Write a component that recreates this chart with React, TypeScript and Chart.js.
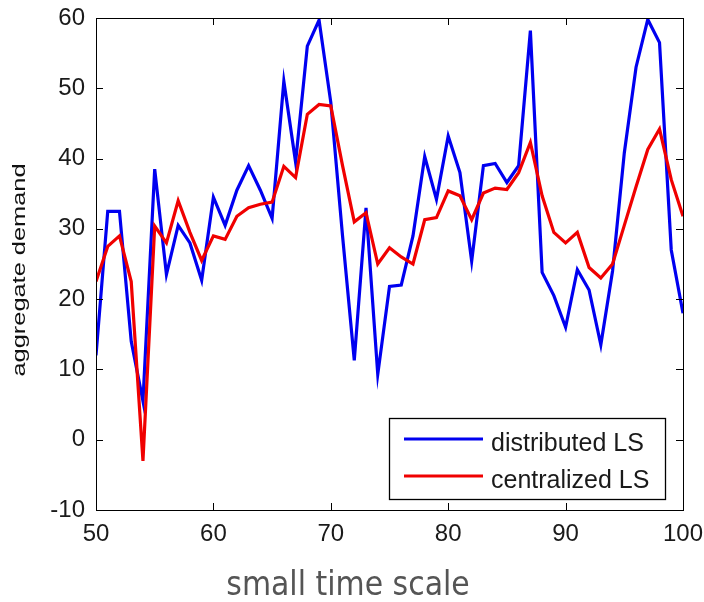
import React, { useEffect, useRef } from "react";
import { Chart, registerables } from "chart.js";

Chart.register(...registerables);

const timeSteps = [
  50, 51, 52, 53, 54, 55, 56, 57, 58, 59, 60, 61, 62, 63, 64, 65, 66, 67, 68, 69, 70,
  71, 72, 73, 74, 75, 76, 77, 78, 79, 80, 81, 82, 83, 84, 85, 86, 87, 88, 89, 90,
  91, 92, 93, 94, 95, 96, 97, 98, 99, 100,
];

const distributedLS = [
  12, 32.5, 32.5, 14, 5.5, 38.5, 23.5, 30.5, 28, 22.7, 34.5, 30.5, 35.5, 39, 35.5, 31.5,
  51, 39.5, 56, 59.7, 48, 29, 11.3, 33, 9.3, 21.8, 22, 29, 40.3, 34.2, 43.2, 38, 25.4,
  39, 39.3, 36.6, 39, 58.2, 23.8, 20.5, 16, 24.2, 21.3, 13.5, 24, 40.8, 53, 59.8, 56.5,
  27, 18,
];

const centralizedLS = [
  22.5, 27.5, 29, 22.5, -3, 30.4, 28, 34, 29.5, 25.5, 29, 28.5, 31.8, 33, 33.5, 33.8,
  38.9, 37.3, 46.3, 47.7, 47.5, 39, 31, 32.3, 25, 27.3, 26, 25, 31.3, 31.6, 35.4, 34.7,
  31.3, 35.1, 35.8, 35.6, 38, 42.3, 34.7, 29.5, 28, 29.5, 24.5, 23, 25, 30.5, 36, 41.3,
  44.2, 37, 31.8,
];

const seriesLabels = ["distributed LS", "centralized LS"];
const seriesColors = ["#0000f0", "#f00000"];
const xTitle = "small time scale";
const yTitle = "aggregate demand";

const framePlugin = {
  id: "matlabFrame",
  afterDraw(chart: any) {
    const { ctx, chartArea: ca, scales } = chart;
    ctx.save();
    // box
    ctx.strokeStyle = "#000";
    ctx.lineWidth = 1;
    ctx.strokeRect(Math.round(ca.left) + 0.5, Math.round(ca.top) + 0.5, Math.round(ca.right - ca.left), Math.round(ca.bottom - ca.top));
    // inward ticks
    const tl = 7;
    ctx.beginPath();
    scales.x.ticks.forEach((t: any) => {
      const px = Math.round(scales.x.getPixelForValue(t.value)) + 0.5;
      ctx.moveTo(px, ca.bottom);
      ctx.lineTo(px, ca.bottom - tl);
      ctx.moveTo(px, ca.top);
      ctx.lineTo(px, ca.top + tl);
    });
    scales.y.ticks.forEach((t: any) => {
      const py = Math.round(scales.y.getPixelForValue(t.value)) + 0.5;
      ctx.moveTo(ca.left, py);
      ctx.lineTo(ca.left + tl, py);
      ctx.moveTo(ca.right, py);
      ctx.lineTo(ca.right - tl, py);
    });
    ctx.stroke();

    // legend
    const bl = Math.round(ca.right - 294) + 0.5;
    const br = Math.round(ca.right - 18) + 0.5;
    const bt = Math.round(ca.bottom - 92) + 0.5;
    const bb = Math.round(ca.bottom - 11) + 0.5;
    ctx.fillStyle = "#fff";
    ctx.fillRect(bl, bt, br - bl, bb - bt);
    ctx.strokeStyle = "#000";
    ctx.lineWidth = 1.3;
    ctx.strokeRect(bl, bt, br - bl, bb - bt);
    const rows = [ca.bottom - 71, ca.bottom - 34];
    chart.data.datasets.forEach((ds: any, i: number) => {
      const y = rows[i];
      ctx.strokeStyle = ds.borderColor;
      ctx.lineWidth = 3;
      ctx.beginPath();
      ctx.moveTo(ca.right - 279, y);
      ctx.lineTo(ca.right - 200, y);
      ctx.stroke();
      ctx.fillStyle = "#1a1a1a";
      ctx.font = '25px "Liberation Sans", Arial, sans-serif';
      ctx.textAlign = "left";
      ctx.textBaseline = "alphabetic";
      ctx.fillText(ds.label, ca.right - 192, y + 12);
    });

    // y title (stretched)
    ctx.save();
    ctx.translate(20, 270);
    ctx.rotate(-Math.PI / 2);
    ctx.scale(1.45, 1);
    ctx.font = '17.5px "Liberation Sans", Arial, sans-serif';
    ctx.fillStyle = "#111";
    ctx.textAlign = "center";
    ctx.textBaseline = "middle";
    ctx.fillText(yTitle, 0, 0);
    ctx.restore();

    // x title
    ctx.save();
    ctx.translate(348, 595);
    ctx.scale(0.88, 1);
    ctx.font = '34px "DejaVu Sans", sans-serif';
    ctx.fillStyle = "#555";
    ctx.textAlign = "center";
    ctx.textBaseline = "alphabetic";
    ctx.fillText(xTitle, 0, 0);
    ctx.restore();

    ctx.restore();
  },
};

export default function App() {
  const ref = useRef<HTMLCanvasElement>(null);

  useEffect(() => {
    if (!ref.current) return;
    const tickFont = { family: '"Liberation Sans", Arial, sans-serif', size: 24 };
    const chart = new Chart(ref.current, {
      type: "line",
      data: {
        datasets: [
          {
            label: seriesLabels[0],
            data: timeSteps.map((t, i) => ({ x: t, y: distributedLS[i] })),
            borderColor: seriesColors[0],
            borderWidth: 3.2,
            pointRadius: 0,
            tension: 0,
            order: 1,
          },
          {
            label: seriesLabels[1],
            data: timeSteps.map((t, i) => ({ x: t, y: centralizedLS[i] })),
            borderColor: seriesColors[1],
            borderWidth: 3.2,
            pointRadius: 0,
            tension: 0,
            order: 0,
          },
        ],
      },
      options: {
        animation: false,
        responsive: false,
        layout: { padding: { top: 18, right: 21, left: 0, bottom: 0 } },
        plugins: { legend: { display: false }, tooltip: { enabled: false } },
        scales: {
          x: {
            type: "linear",
            min: 50,
            max: 100,
            grid: { display: false, drawTicks: false },
            border: { display: false },
            ticks: { stepSize: 10, font: tickFont, color: "#1a1a1a", padding: 10, maxRotation: 0 },
            afterFit: (s: any) => {
              s.height = 92;
              s.paddingLeft = 0;
              s.paddingRight = 0;
            },
          },
          y: {
            type: "linear",
            min: -10,
            max: 60,
            grid: { display: false, drawTicks: false },
            border: { display: false },
            ticks: { stepSize: 10, font: tickFont, color: "#1a1a1a", padding: 11 },
            afterFit: (s: any) => {
              s.width = 96;
              s.paddingTop = 0;
              s.paddingBottom = 0;
            },
          },
        },
      },
      plugins: [framePlugin],
    });
    return () => chart.destroy();
  }, []);

  return (
    <div style={{ position: "fixed", left: 0, top: 0, width: 704, height: 602, background: "#fff" }}>
      <canvas ref={ref} width={704} height={602} style={{ display: "block" }} />
    </div>
  );
}
